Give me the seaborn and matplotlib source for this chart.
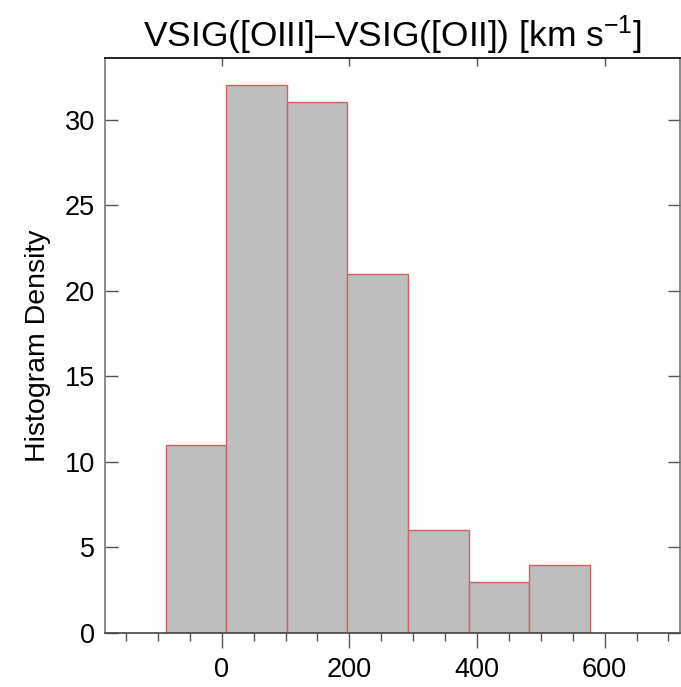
import matplotlib
matplotlib.use("Agg")
import matplotlib.pyplot as plt
from matplotlib.ticker import MultipleLocator
import seaborn as sns
import numpy as np

# Histogram bins (km/s) and counts per bin
bin_edges = [-88, 7, 102, 197, 292, 387, 482, 577]
counts = [11, 32, 31, 21, 6, 3, 4]

x_major = [0, 200, 400, 600]
y_major = [0, 5, 10, 15, 20, 25, 30]

sns.set_style("white")
plt.rcParams["font.family"] = ["Liberation Sans", "DejaVu Sans"]
plt.rcParams["mathtext.fontset"] = "custom"
plt.rcParams["mathtext.rm"] = "Liberation Sans"
plt.rcParams["mathtext.it"] = "Liberation Sans"
for key in ["text.color", "axes.labelcolor", "xtick.labelcolor", "ytick.labelcolor"]:
    plt.rcParams[key] = "black"

fig = plt.figure(figsize=(6.81, 6.87), dpi=100)
ax = fig.add_axes([0.154, 0.0786, 0.8445, 0.837])

centers = [(a + b) / 2 for a, b in zip(bin_edges[:-1], bin_edges[1:])]
sns.histplot(x=centers, weights=counts, bins=bin_edges, ax=ax,
             color="#bebebe", edgecolor="#d06464", linewidth=1.0, alpha=1.0)

ax.set_xlim(-183, 718)
ax.set_ylim(0, 33.6)

ax.set_xticks(x_major)
ax.xaxis.set_minor_locator(MultipleLocator(50))
ax.set_yticks(y_major)

ax.tick_params(axis="x", which="major", direction="out", length=11, width=1.0,
               color="#555555", labelsize=19.5, labelcolor="black", pad=6,
               bottom=True, top=False)
ax.tick_params(axis="x", which="minor", direction="out", length=6, width=1.0,
               color="#555555", bottom=True, top=False)
ax.tick_params(axis="y", which="major", direction="in", length=9, width=1.0,
               color="#555555", labelsize=19.5, labelcolor="black", pad=7,
               left=True, right=True)

# inward major ticks along the top edge
top = ax.secondary_xaxis("top")
top.set_xticks(x_major)
top.tick_params(axis="x", direction="in", length=6, width=1.0, color="#555555",
                labeltop=False)
top.spines["top"].set_visible(False)

for side, col in [("left", "#777777"), ("bottom", "#444444"),
                  ("right", "#777777"), ("top", "#000000")]:
    ax.spines[side].set_visible(True)
    ax.spines[side].set_color(col)
    ax.spines[side].set_linewidth(1.2)

ax.set_xlabel("")
ax.set_ylabel("Histogram Density", fontsize=20.5, color="black", labelpad=10)
ax.set_title("VSIG([OIII]\u2013VSIG([OII]) [km s$^{-1}$]", fontsize=25.5,
             color="black", pad=8)

fig.savefig("out.png", dpi=100)
